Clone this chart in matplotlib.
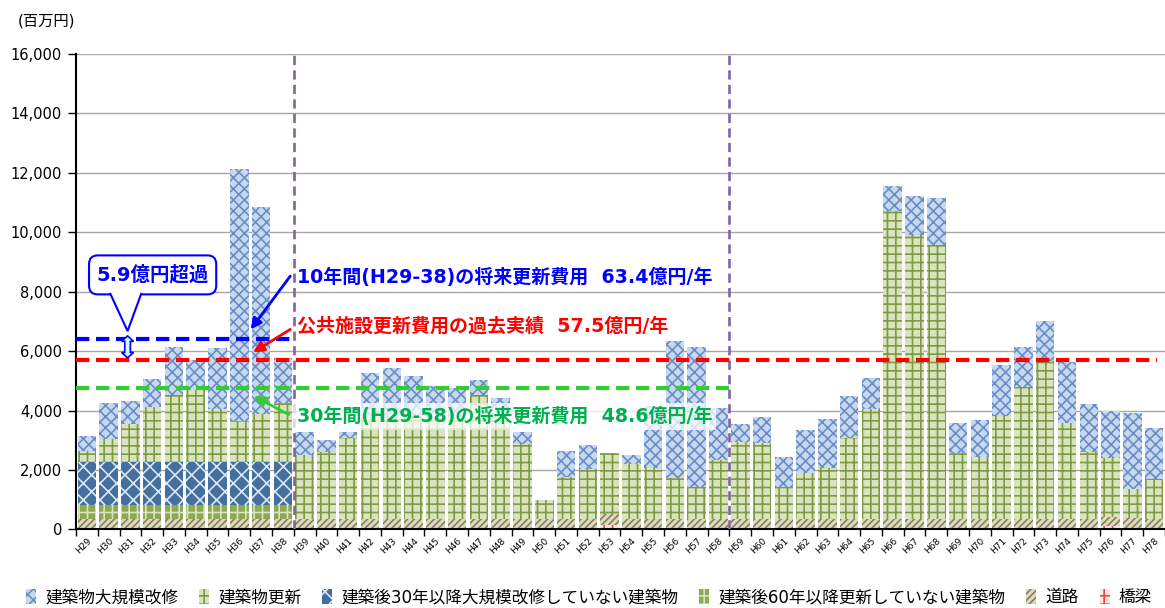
import matplotlib
matplotlib.use('Agg')
import matplotlib.pyplot as plt
import matplotlib.transforms as mtransforms
from matplotlib.patches import FancyBboxPatch, Polygon, Patch
import numpy as np

plt.rcParams['font.family'] = ['DejaVu Sans', 'Noto Sans CJK JP']
plt.rcParams['hatch.linewidth'] = 1.2

years = ['H29', 'H30', 'H31', 'H32', 'H33', 'H34', 'H35', 'H36', 'H37', 'H38',
         'H39', 'H40', 'H41', 'H42', 'H43', 'H44', 'H45', 'H46', 'H47', 'H48',
         'H49', 'H50', 'H51', 'H52', 'H53', 'H54', 'H55', 'H56', 'H57', 'H58',
         'H59', 'H60', 'H61', 'H62', 'H63', 'H64', 'H65', 'H66', 'H67', 'H68',
         'H69', 'H70', 'H71', 'H72', 'H73', 'H74', 'H75', 'H76', 'H77', 'H78']

# 百万円
bridge = [0, 0, 0, 0, 0, 0, 0, 0, 0, 0,
          0, 0, 0, 0, 0, 0, 0, 0, 0, 0,
          0, 0, 0, 0, 140, 0, 0, 0, 0, 0,
          0, 0, 0, 0, 0, 0, 0, 0, 0, 0,
          0, 0, 0, 0, 0, 0, 0, 100, 60, 0]
road = [350, 350, 350, 350, 350, 350, 350, 350, 350, 350,
        350, 350, 350, 350, 350, 350, 350, 350, 350, 350,
        350, 350, 350, 350, 370, 350, 350, 350, 350, 350,
        350, 350, 350, 350, 350, 350, 350, 350, 350, 350,
        350, 350, 350, 350, 350, 350, 350, 330, 310, 350]
no_update_60 = [480, 480, 480, 480, 480, 480, 480, 480, 480, 480] + [0] * 40
no_repair_30 = [1450, 1450, 1450, 1450, 1450, 1450, 1450, 1450, 1450, 1450] + [0] * 40
renewal = [360, 755, 1260, 1835, 2250, 2395, 1765, 1350, 1600, 1970,
           2145, 2255, 2740, 3450, 3500, 3450, 3430, 3430, 4160, 3450,
           2515, 635, 1420, 1665, 2065, 1865, 1730, 1385, 1060, 2000,
           2585, 2550, 1090, 1560, 1705, 2715, 3695, 10360, 9550, 9235,
           2210, 2100, 3450, 4435, 5300, 3225, 2245, 1965, 980, 1335]
repair = [485, 1215, 765, 955, 1605, 1035, 2055, 8485, 6980, 1515,
          775, 395, 190, 1470, 1590, 1370, 1050, 990, 530, 630,
          425, 0, 850, 815, 0, 280, 2070, 4590, 4720, 1750,
          620, 875, 990, 1440, 1650, 1425, 1045, 845, 1335, 1575,
          1035, 1235, 1720, 1350, 1350, 2045, 1630, 1585, 2560, 1730]

avg_10y = 6420   # 63.4億円/年
past_avg = 5700  # 57.5億円/年
avg_30y = 4760   # 48.6億円/年

fig = plt.figure(figsize=(11.65, 6.08), dpi=100)
ax = fig.add_axes([0.0652, 0.1294, 0.9348, 0.7817])

x = np.arange(len(years))
layers = [
    (bridge, '橋梁', dict(facecolor='#fbe6e6', edgecolor='#ee4444', hatch='++')),
    (road, '道路', dict(facecolor='#ddd9c3', edgecolor='#8a8058', hatch='/////')),
    (no_update_60, '建築後60年以降更新していない建築物',
     dict(facecolor='#8ca852', edgecolor='#d7e4bd', hatch='++')),
    (no_repair_30, '建築後30年以降大規模改修していない建築物',
     dict(facecolor='#44709f', edgecolor='#dce6f2', hatch='xx')),
    (renewal, '建築物更新', dict(facecolor='#d7e4bd', edgecolor='#7f9a45', hatch='++')),
    (repair, '建築物大規模改修', dict(facecolor='#c6d9f1', edgecolor='#6b8dc4', hatch='xxx')),
]
bottom = np.zeros(len(years))
handles = []
for vals, name, style in layers:
    ax.bar(x, vals, width=0.85, bottom=bottom, linewidth=0, zorder=2, **style)
    bottom += np.array(vals)
    handles.append(Patch(linewidth=0, label=name, **style))

# axes
ax.set_xlim(-0.5, 49.15)
ax.set_ylim(0, 16000)
ax.set_yticks(np.arange(0, 16001, 2000))
ax.set_yticklabels(['{:,}'.format(v) for v in range(0, 16001, 2000)], fontsize=10.5)
ax.yaxis.grid(True, color='#a6a6a6', lw=1)
ax.set_axisbelow(True)
ax.set_xticks(x)
ax.set_xticklabels(years, rotation=45, ha='right', rotation_mode='anchor', fontsize=6.5)
ax.set_xticks(np.arange(-0.5, 50, 1), minor=True)
ax.tick_params(axis='x', which='major', length=0, pad=5)
ax.tick_params(axis='x', which='minor', length=5, width=1)
ax.tick_params(axis='y', length=6, width=1, pad=4)
for s in ['top', 'right']:
    ax.spines[s].set_visible(False)
ax.spines['left'].set_linewidth(1.5)
ax.spines['bottom'].set_linewidth(1.5)

# period separators
ax.vlines([9.5, 29.5], 0, 16000, colors='#8064a2', lw=1.9, linestyles=(0, (3.5, 2)), zorder=4)

# average lines
ax.hlines(avg_10y, -0.5, 9.5, colors='#0000ff', lw=3, linestyles=(0, (3.2, 1.6)), zorder=5)
ax.hlines(past_avg, -0.5, 49.15, colors='#ff0000', lw=3, linestyles=(0, (3.2, 1.6)), zorder=5)
ax.hlines(avg_30y, -0.5, 29.5, colors='#33cc33', lw=3, linestyles=(0, (3.2, 1.6)), zorder=5)

# labels for lines
ax.text(9.63, 8481, '10年間(H29-38)の将来更新費用  63.4億円/年', color='#0000ff',
        fontsize=13.7, fontweight='bold', ha='left', va='center', zorder=7)
ax.text(9.63, 6832, '公共施設更新費用の過去実績  57.5億円/年', color='#ff0000',
        fontsize=13.7, fontweight='bold', ha='left', va='center', zorder=7)
ax.text(9.63, 3798, '30年間(H29-58)の将来更新費用  48.6億円/年', color='#00b050',
        fontsize=13.7, fontweight='bold', ha='left', va='center', zorder=7,
        bbox=dict(facecolor='white', alpha=0.75, edgecolor='none', pad=3))

arrow_kw = dict(arrowstyle='-|>', lw=2, mutation_scale=16, shrinkA=0, shrinkB=0)
ax.annotate('', xy=(7.52, 6730), xytext=(9.34, 8525),
            arrowprops=dict(color='#0000ff', **arrow_kw), zorder=7)
ax.annotate('', xy=(7.63, 5956), xytext=(9.34, 6730),
            arrowprops=dict(color='#ff0000', **arrow_kw), zorder=7)
ax.annotate('', xy=(7.67, 4481), xytext=(9.27, 3865),
            arrowprops=dict(color='#33cc33', **arrow_kw), zorder=7)

# callout "5.9億円超過"
box = FancyBboxPatch((0.10, 7909), 5.84, 1313,
                     boxstyle='round,pad=0,rounding_size=0.4', mutation_aspect=738.7,
                     facecolor='white', edgecolor='#0000ff', lw=1.5, zorder=8)
ax.add_patch(box)
tail = Polygon([(1.06, 7960), (1.87, 6673), (2.51, 7960)], closed=False,
               facecolor='white', edgecolor='#0000ff', lw=1.5, zorder=9)
ax.add_patch(tail)
ax.text(3.02, 8565, '5.9億円超過', color='#0000ff', fontsize=14, fontweight='bold',
        ha='center', va='center', zorder=10)

# double arrow between 10y line and past line
h, hl, hw, sw = 0.11, 0.055, 0.06, 0.028
trans = fig.dpi_scale_trans + mtransforms.ScaledTranslation(1.87, 6141, ax.transData)
darrow = Polygon([(0, h), (-hw, h - hl), (-sw, h - hl), (-sw, -(h - hl)), (-hw, -(h - hl)),
                  (0, -h), (hw, -(h - hl)), (sw, -(h - hl)), (sw, h - hl), (hw, h - hl)],
                 closed=True, transform=trans, facecolor='#ccffff', edgecolor='#0000ff',
                 lw=1.2, zorder=9)
ax.add_patch(darrow)

fig.text(18 / 1165, 1 - 21 / 608, '(百万円)', fontsize=11, ha='left', va='center')

fig.legend(handles[::-1], [hd.get_label() for hd in handles[::-1]], loc='center',
           bbox_to_anchor=(0.5056, 0.018), ncol=6, frameon=False, fontsize=12,
           handlelength=0.6, handleheight=1.0, handletextpad=0.55, columnspacing=1.25,
           borderaxespad=0, borderpad=0)

fig.savefig('out.png', dpi=100)
